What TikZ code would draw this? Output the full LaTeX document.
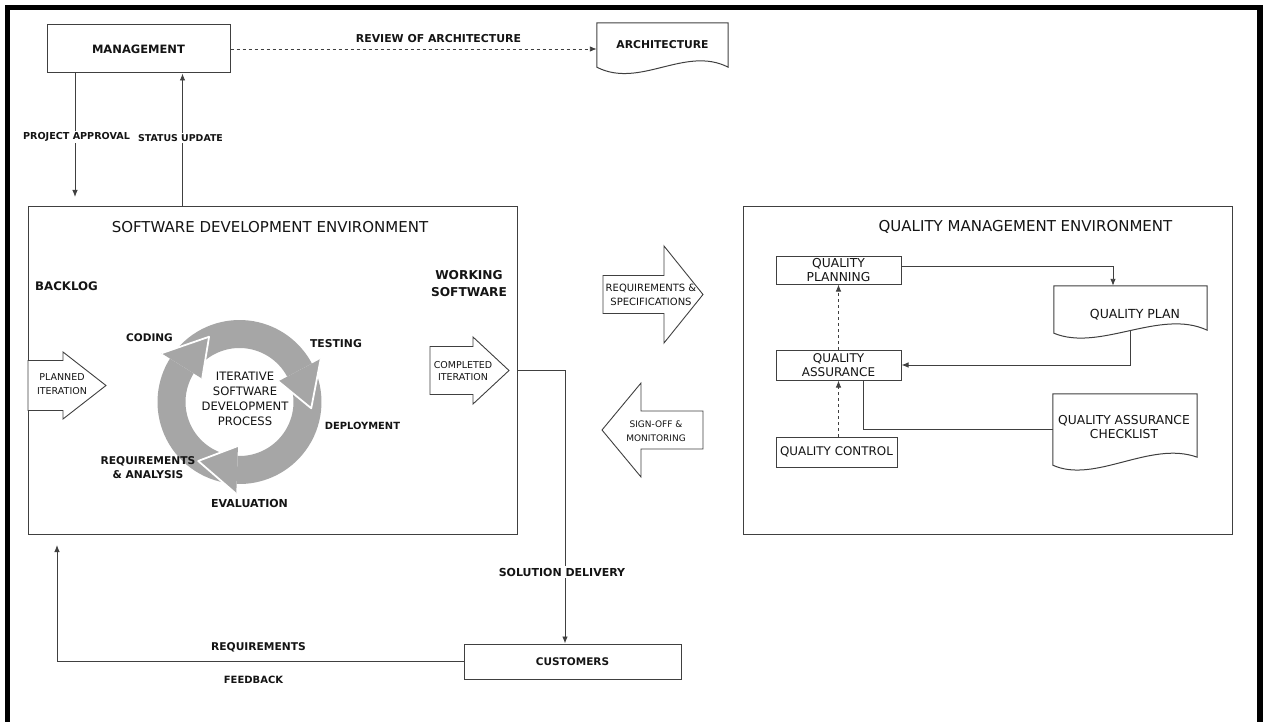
\documentclass[tikz,border=0pt]{standalone}
\usepackage{fontspec}
\setmainfont{DejaVu Sans}
\usetikzlibrary{arrows.meta,calc}
\definecolor{ink}{RGB}{64,64,64}
\definecolor{txt}{RGB}{20,20,20}
\definecolor{ringgray}{RGB}{166,166,166}
\newcommand\dgfs[2]{\fontsize{#1}{#2}\selectfont}

\begin{document}
\begin{tikzpicture}[x=1pt,y=-1pt,
  box/.style={draw=ink, line width=1pt, fill=white, inner sep=0pt, align=center, text=txt},
  frameonly/.style={inner sep=0pt},
  lbl/.style={inner sep=1pt, align=center, text=txt},
  bl/.style={lbl, font=\bfseries\dgfs{#1}{13}},
  rl/.style={lbl, font=\dgfs{#1}{14}},
  conn/.style={draw=ink, line width=0.9pt},
  arr/.style={conn, -{Latex[length=7pt,width=5.5pt]}},
  dasharr/.style={arr, dash pattern=on 3pt off 3pt},
  blockarrow/.style={draw=ink, line width=0.9pt, fill=white, line join=miter},
  docshape/.style={draw=ink, line width=1pt},
  cover/.style={fill=white, inner sep=1.5pt},
]
\useasboundingbox (0,0) rectangle (1264,722);

% outer frame
\draw[line width=5.5pt, line join=miter] (7.5,740) -- (7.5,7.5) -- (1260,7.5) -- (1260,740);

% management and architecture
\node[box, minimum width=183pt, minimum height=48pt, font=\bfseries\dgfs{11.5}{14}] (mgmt) at (138.5,49) {MANAGEMENT};
\node[frameonly, minimum width=131pt, minimum height=44pt, font=\bfseries\dgfs{10.8}{13}, text=txt] (arch) at (662.5,45) {ARCHITECTURE};
\path[docshape] (arch.south west) -- (arch.north west) -- (arch.north east) -- (arch.south east)
  .. controls ($(arch.south east)+(-43,-22)$) and ($(arch.south west)+(43,22)$) .. (arch.south west) -- cycle;
\draw[dasharr] (mgmt.east) -- (mgmt.east -| arch.west);
\node[bl=10.9] (review) at (438.5,39) {REVIEW OF ARCHITECTURE};

% environments
\node[box, minimum width=489pt, minimum height=327pt] (sde) at (272.5,370.5) {};
\node[box, minimum width=489pt, minimum height=327pt] (qme) at (987.5,370.5) {};
\node[rl=15] (sdetitle) at (270,227) {SOFTWARE DEVELOPMENT ENVIRONMENT};
\node[rl=15] (qmetitle) at (1025.5,227) {QUALITY MANAGEMENT ENVIRONMENT};

% management flows
\coordinate (padown) at (75,197);
\draw[arr] (mgmt.south -| padown) -- (padown);
\node[bl=9.6, cover] (pa) at (76.5,137) {PROJECT APPROVAL};
\coordinate (suup) at ($(sde.north west)+(155,0)$);
\draw[arr] (suup) -- (suup |- mgmt.south);
\node[bl=9.4, cover] (su) at (180.5,138) {STATUS UPDATE};

% backlog / working software
\node[bl=11.8] (backlog) at (66.5,286) {BACKLOG};
\node[lbl, font=\bfseries\dgfs{12.2}{17}] (working) at (469,283.5) {WORKING\\SOFTWARE};

% planned iteration
\draw[blockarrow] (28,360.5) -- (63,360.5) -- (63,352) -- (106,385.5) -- (63,419) -- (63,410.5) -- (28,410.5) -- cycle;
\node[lbl, font=\dgfs{9.5}{14}] (planned) at (62,384.5) {PLANNED\\ITERATION};

% completed iteration
\draw[blockarrow] (430,346.5) -- (473,346.5) -- (473,337) -- (509,370.5) -- (473,404) -- (473,394.5) -- (430,394.5) -- cycle;
\coordinate (cmptip) at (509,370.5);
\node[lbl, font=\dgfs{9.5}{12}] (completed) at (463,371) {COMPLETED\\ITERATION};

% iterative cycle ring
\begin{scope}[shift={(239.5,402)}, yscale=-1]
  \foreach \a/\b in {260/148, 140/28, 20/-92} {
    \fill[ringgray] (\a:82) arc[start angle=\a, end angle=\b, radius=82]
      -- (\b:54) arc[start angle=\b, end angle=\a, radius=54] -- cycle;
  }
  \foreach \b in {148, 28, -92} {
    \fill[ringgray] (\b:92) -- ({\b-33}:72) -- (\b:44) -- cycle;
    \draw[white, line width=1.8pt, line join=round] (\b:92) -- ({\b-33}:72) -- (\b:44);
  }
\end{scope}
\node[lbl, font=\dgfs{11.6}{15}] (isdp) at (245,399) {ITERATIVE\\SOFTWARE\\DEVELOPMENT\\PROCESS};
\node[bl=10.5] (coding) at (149.5,338) {CODING};
\node[bl=10.8] (testing) at (336,344) {TESTING};
\node[bl=9.9] (deploy) at (362.5,426) {DEPLOYMENT};
\node[lbl, font=\bfseries\dgfs{10.7}{14}] (reqan) at (148,468) {REQUIREMENTS\\\& ANALYSIS};
\node[bl=11] (evaluation) at (249.5,503) {EVALUATION};

% exchanges between environments
\draw[blockarrow] (603,275.5) -- (664,275.5) -- (664,246) -- (703,294.5) -- (664,343) -- (664,313.5) -- (603,313.5) -- cycle;
\node[lbl, font=\dgfs{10}{14}] (reqspec) at (651,295) {REQUIREMENTS \&\\SPECIFICATIONS};
\draw[blockarrow] (703,411) -- (641,411) -- (641,383) -- (602,430) -- (641,477) -- (641,449) -- (703,449) -- cycle;
\node[lbl, font=\dgfs{9}{14}] (signoff) at (656,431) {SIGN-OFF \&\\MONITORING};

% delivery to customers and feedback
\node[box, minimum width=217pt, minimum height=35pt, font=\bfseries\dgfs{10.5}{13}] (cust) at (572.5,661.5) {CUSTOMERS};
\coordinate (sdturn) at (565,370.5);
\draw[arr] (cmptip -| sde.east) -- (sdturn) -- (sdturn |- cust.north);
\node[bl=11, cover] (soldel) at (562,572) {SOLUTION DELIVERY};
\coordinate (fbtip) at (57,545);
\draw[arr] (cust.west) -| (fbtip);
\node[bl=10.7] (fbreq) at (258.5,647) {REQUIREMENTS};
\node[bl=10] (fbfeed) at (253.5,680) {FEEDBACK};

% quality management
\node[box, minimum width=125pt, minimum height=27pt, font=\dgfs{12.3}{14}] (qp) at (838.5,270.5) {QUALITY\\PLANNING};
\node[box, minimum width=125pt, minimum height=30pt, font=\dgfs{12}{14}] (qa) at (838.5,365) {QUALITY\\ASSURANCE};
\node[box, minimum width=121pt, minimum height=30pt, font=\dgfs{11.9}{14}] (qc) at (836.5,452) {QUALITY CONTROL};

\node[frameonly, minimum width=153pt, minimum height=47pt] (qplan) at (1130.5,309.5) {};
\path[docshape] (qplan.south west) -- (qplan.north west) -- (qplan.north east) -- ($(qplan.south east)+(0,-3)$)
  .. controls ($(qplan.south east)+(-47,-25)$) and ($(qplan.south west)+(46,19)$) .. (qplan.south west) -- cycle;
\node[lbl, font=\dgfs{12.5}{14}] (qplantxt) at (1135,315) {QUALITY PLAN};

\node[frameonly, minimum width=144pt, minimum height=71pt] (qcl) at (1125,429.5) {};
\path[docshape] (qcl.south west) -- (qcl.north west) -- (qcl.north east) -- ($(qcl.south east)+(0,-8)$)
  .. controls ($(qcl.south east)+(-47,-25)$) and ($(qcl.south west)+(42,19)$) .. (qcl.south west) -- cycle;
\node[lbl, font=\dgfs{12.3}{14}] (qcltxt) at (1124,427) {QUALITY ASSURANCE\\CHECKLIST};

\draw[arr] ([yshift=4pt]qp.east) -| ([xshift=-17.5pt]qplan.north);
\coordinate (qpw) at (1130,330.4);
\draw[arr] (qpw) |- (qa.east);
\draw[dasharr] (qa.north) -- (qp.south);
\draw[dasharr] (qc.north -| qa.south) -- (qa.south);
\draw[conn] ([xshift=24.5pt]qa.south) |- (qcl.west);

\end{tikzpicture}
\end{document}
